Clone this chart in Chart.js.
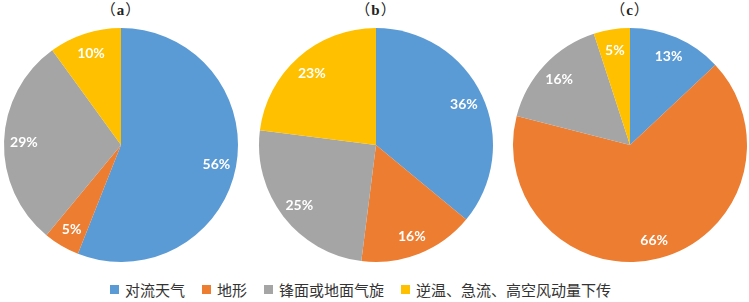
<!DOCTYPE html>
<html>
<head>
<meta charset="utf-8">
<script src="https://cdn.jsdelivr.net/npm/chart.js@4"></script>
<style>
  body { margin: 0; background: #fff; width: 749px; height: 302px; position: relative; overflow: hidden; }
  .pie { position: absolute; top: 25px; width: 240px; height: 240px; }
  .ttl { position: absolute; top: -2px; width: 80px; text-align: center; font: 15px "Noto Sans CJK SC", sans-serif; color: #222; letter-spacing: 1px; }
  .ttl b { font: bold 15px "Liberation Serif", serif; }
  #legend { position: absolute; left: 110px; top: 279px; display: flex; align-items: center; font: 15px "Noto Sans CJK SC", sans-serif; color: #333; white-space: nowrap; }
  #legend .sw { width: 9px; height: 9px; margin-right: 6px; }
  #legend .it { display: flex; align-items: center; margin-right: 17px; }
</style>
</head>
<body>
<div class="ttl" id="t0"></div><div class="ttl" id="t1"></div><div class="ttl" id="t2"></div>
<div class="pie" id="p0"><canvas id="c0"></canvas></div>
<div class="pie" id="p1"><canvas id="c1"></canvas></div>
<div class="pie" id="p2"><canvas id="c2"></canvas></div>
<div id="legend"></div>
<script>
const categories = ['对流天气', '地形', '锋面或地面气旋', '逆温、急流、高空风动量下传'];
const panelLetters = ['a', 'b', 'c'];
const valuesA = [56, 5, 29, 10];
const valuesB = [36, 16, 25, 23];
const valuesC = [13, 66, 16, 5];
const colors = ['#5B9BD5', '#ED7D31', '#A5A5A5', '#FFC000'];

const centersX = [121, 376, 630];
const allValues = [valuesA, valuesB, valuesC];

// draw percent labels inside the slices
const sliceLabels = {
    id: 'sliceLabels',
    afterDatasetsDraw(chart) {
        const ctx = chart.ctx;
        const meta = chart.getDatasetMeta(0);
        const data = chart.data.datasets[0].data;
        ctx.save();
        ctx.fillStyle = '#fff';
        ctx.font = 'bold 14px Lato, "Liberation Sans", sans-serif';
        ctx.textAlign = 'center';
        ctx.textBaseline = 'middle';
        meta.data.forEach((arc, i) => {
            const p = arc.getProps(['x', 'y', 'startAngle', 'endAngle', 'outerRadius'], true);
            const mid = (p.startAngle + p.endAngle) / 2;
            const r = p.outerRadius * 0.83;
            ctx.fillText(data[i] + '%', p.x + Math.cos(mid) * r, p.y + Math.sin(mid) * r + 1);
        });
        ctx.restore();
    }
};

allValues.forEach((vals, k) => {
    document.getElementById('p' + k).style.left = (centersX[k] - 120) + 'px';
    const t = document.getElementById('t' + k);
    t.innerHTML = '（<b>' + panelLetters[k] + '</b>）';
    t.style.left = (centersX[k] - 40) + 'px';

    new Chart(document.getElementById('c' + k), {
        type: 'pie',
        data: {
            labels: categories,
            datasets: [{ data: vals, backgroundColor: colors, borderWidth: 0 }]
        },
        options: {
            responsive: true,
            maintainAspectRatio: false,
            animation: false,
            layout: { padding: 3 },
            plugins: { legend: { display: false }, tooltip: { enabled: false } }
        },
        plugins: [sliceLabels]
    });
});

const legend = document.getElementById('legend');
categories.forEach((name, i) => {
    const it = document.createElement('div');
    it.className = 'it';
    const sw = document.createElement('div');
    sw.className = 'sw';
    sw.style.background = colors[i];
    const tx = document.createElement('span');
    tx.textContent = name;
    it.appendChild(sw);
    it.appendChild(tx);
    legend.appendChild(it);
});
</script>
</body>
</html>
